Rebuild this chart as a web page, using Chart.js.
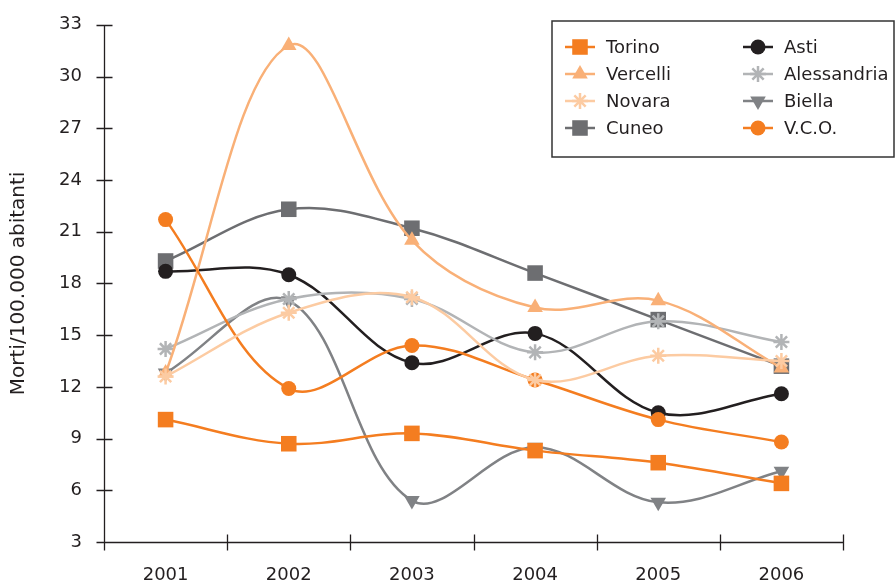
<!DOCTYPE html>
<html><head><meta charset="utf-8">
<script src="https://cdn.jsdelivr.net/npm/chart.js@4.4.1/dist/chart.umd.min.js"></script>
<style>html,body{margin:0;padding:0;background:#fff;overflow:hidden}#wrap{width:896px;height:581px;position:relative}</style>
</head><body><div id="wrap"><canvas id="c" width="896" height="581"></canvas></div>
<script>
const years = ['2001', '2002', '2003', '2004', '2005', '2006'];
const seriesNames = ['Torino', 'Vercelli', 'Novara', 'Cuneo', 'Asti', 'Alessandria', 'Biella', 'V.C.O.'];
const torino = [10.1, 8.7, 9.3, 8.3, 7.6, 6.4];
const vercelli = [12.8, 31.8, 20.5, 16.6, 17.0, 13.1];
const novara = [12.6, 16.3, 17.2, 12.4, 13.8, 13.5];
const cuneo = [19.3, 22.3, 21.2, 18.6, 15.9, 13.2];
const asti = [18.7, 18.5, 13.4, 15.1, 10.5, 11.6];
const alessandria = [14.2, 17.1, 17.1, 14.0, 15.8, 14.6];
const biella = [12.8, 17.0, 5.4, 8.5, 5.3, 7.1];
const vco = [21.7, 11.9, 14.4, 12.4, 10.1, 8.8];
const yMin = 3, yMax = 33, yStep = 3;
const yTitle = 'Morti/100.000 abitanti';

const FONT = '"DejaVu Sans", sans-serif';
const INK = '#231F20';

const styles = [
  {color: '#F47D20', pointStyle: 'rect', radius: 11, rotation: 0, order: 3},
  {color: '#F9B077', pointStyle: 'triangle', radius: 9, rotation: 0, order: 4},
  {color: '#FCCBA2', pointStyle: 'star', radius: 8, rotation: 0, order: 1},
  {color: '#6D6E71', pointStyle: 'rect', radius: 11, rotation: 0, order: 8},
  {color: '#231F20', pointStyle: 'circle', radius: 7.5, rotation: 0, order: 6},
  {color: '#B2B4B6', pointStyle: 'star', radius: 8, rotation: 0, order: 5},
  {color: '#808285', pointStyle: 'triangle', radius: 9, rotation: 180, order: 7},
  {color: '#F47D20', pointStyle: 'circle', radius: 7.5, rotation: 0, order: 2}
];
const values = [torino, vercelli, novara, cuneo, asti, alessandria, biella, vco];

const datasets = values.map((v, i) => {
  const s = styles[i];
  return {
    label: seriesNames[i],
    data: v,
    borderColor: s.color,
    backgroundColor: s.color,
    borderWidth: 2.5,
    tension: 0.36,
    pointStyle: s.pointStyle,
    pointRadius: s.radius,
    pointRotation: s.rotation,
    pointBackgroundColor: s.color,
    pointBorderColor: s.color,
    pointBorderWidth: s.pointStyle === 'star' ? 2.5 : 0,
    pointHoverRadius: s.radius,
    order: s.order,
    clip: false
  };
});

function drawMarker(ctx, s, x, y) {
  ctx.save();
  ctx.fillStyle = s.color; ctx.strokeStyle = s.color;
  const r = s.radius;
  ctx.beginPath();
  if (s.pointStyle === 'rect') {
    const h = Math.SQRT1_2 * r;
    ctx.rect(x - h, y - h, 2 * h, 2 * h); ctx.fill();
  } else if (s.pointStyle === 'circle') {
    ctx.arc(x, y, r, 0, Math.PI * 2); ctx.fill();
  } else if (s.pointStyle === 'triangle') {
    let a = s.rotation * Math.PI / 180;
    for (let k = 0; k < 3; k++) {
      const px = x + Math.sin(a) * r, py = y - Math.cos(a) * r;
      if (k === 0) ctx.moveTo(px, py); else ctx.lineTo(px, py);
      a += 2 * Math.PI / 3;
    }
    ctx.closePath(); ctx.fill();
  } else if (s.pointStyle === 'star') {
    ctx.lineWidth = 2.5;
    for (let k = 0; k < 4; k++) {
      const a = k * Math.PI / 4;
      ctx.moveTo(x + Math.cos(a) * r, y + Math.sin(a) * r);
      ctx.lineTo(x - Math.cos(a) * r, y - Math.sin(a) * r);
    }
    ctx.stroke();
  }
  ctx.restore();
}

const legendBox = {
  id: 'legendBox',
  afterDraw(chart) {
    const ctx = chart.ctx;
    ctx.save();
    ctx.strokeStyle = '#333';
    ctx.lineWidth = 1.5;
    ctx.fillStyle = '#fff';
    ctx.fillRect(552, 21, 342, 136);
    ctx.strokeRect(552, 21, 342, 136);
    ctx.font = '18px ' + FONT;
    ctx.textBaseline = 'middle';
    chart.data.datasets.forEach((ds, i) => {
      const s = styles[i];
      const col = Math.floor(i / 4), row = i % 4;
      const x0 = col === 0 ? 565 : 743;
      const y = 47 + row * 27;
      ctx.strokeStyle = s.color; ctx.lineWidth = 2.5;
      ctx.beginPath(); ctx.moveTo(x0, y); ctx.lineTo(x0 + 30, y); ctx.stroke();
      drawMarker(ctx, s, x0 + 15, y);
      ctx.fillStyle = INK;
      ctx.fillText(ds.label, x0 + 41, y + 1);
    });
    ctx.restore();
  }
};

const axesPlugin = {
  id: 'axesPlugin',
  beforeDatasetsDraw(chart) {
    const ctx = chart.ctx;
    const xs = chart.scales.x, ys = chart.scales.y;
    const L = Math.round(xs.left) + 0.5, B = Math.round(ys.bottom) + 0.5;
    ctx.save();
    ctx.strokeStyle = INK; ctx.lineWidth = 1.3;
    ctx.beginPath();
    // axis lines
    ctx.moveTo(L, Math.round(ys.top) + 0.5); ctx.lineTo(L, B);
    ctx.moveTo(L, B); ctx.lineTo(Math.round(xs.right) + 0.5, B);
    // y ticks crossing the axis
    ys.ticks.forEach((t, i) => {
      const py = Math.round(ys.getPixelForTick(i)) + 0.5;
      ctx.moveTo(L - 8, py); ctx.lineTo(L + 8, py);
    });
    // x ticks at category boundaries, crossing the axis
    const n = xs.ticks.length;
    for (let i = 0; i <= n; i++) {
      const px = Math.round(xs.left + i * (xs.right - xs.left) / n) + 0.5;
      ctx.moveTo(px, B - 8); ctx.lineTo(px, B + 8);
    }
    ctx.stroke();
    ctx.restore();
  }
};

new Chart(document.getElementById('c'), {
  type: 'line',
  data: {labels: years, datasets: datasets},
  options: {
    responsive: false,
    animation: false,
    devicePixelRatio: 1,
    layout: {padding: {top: 21, right: 53, left: 0, bottom: 0}},
    plugins: {legend: {display: false}, tooltip: {enabled: false}},
    scales: {
      x: {
        type: 'category',
        offset: true,
        grid: {display: false, drawTicks: true, tickLength: 8, offset: true},
        border: {display: false},
        ticks: {color: INK, font: {family: FONT, size: 18}, padding: 15, maxRotation: 0},
        afterFit(scale) { scale.height = 39; }
      },
      y: {
        min: yMin, max: yMax,
        grid: {display: false, drawTicks: true, tickLength: 8},
        border: {display: false},
        ticks: {stepSize: yStep, color: INK, font: {family: FONT, size: 18}, padding: 14},
        title: {display: true, text: yTitle, color: INK, font: {family: FONT, size: 20}, padding: {top: 7, bottom: 0}},
        afterFit(scale) { scale.width = 104; }
      }
    }
  },
  plugins: [axesPlugin, legendBox]
});
</script></body></html>
